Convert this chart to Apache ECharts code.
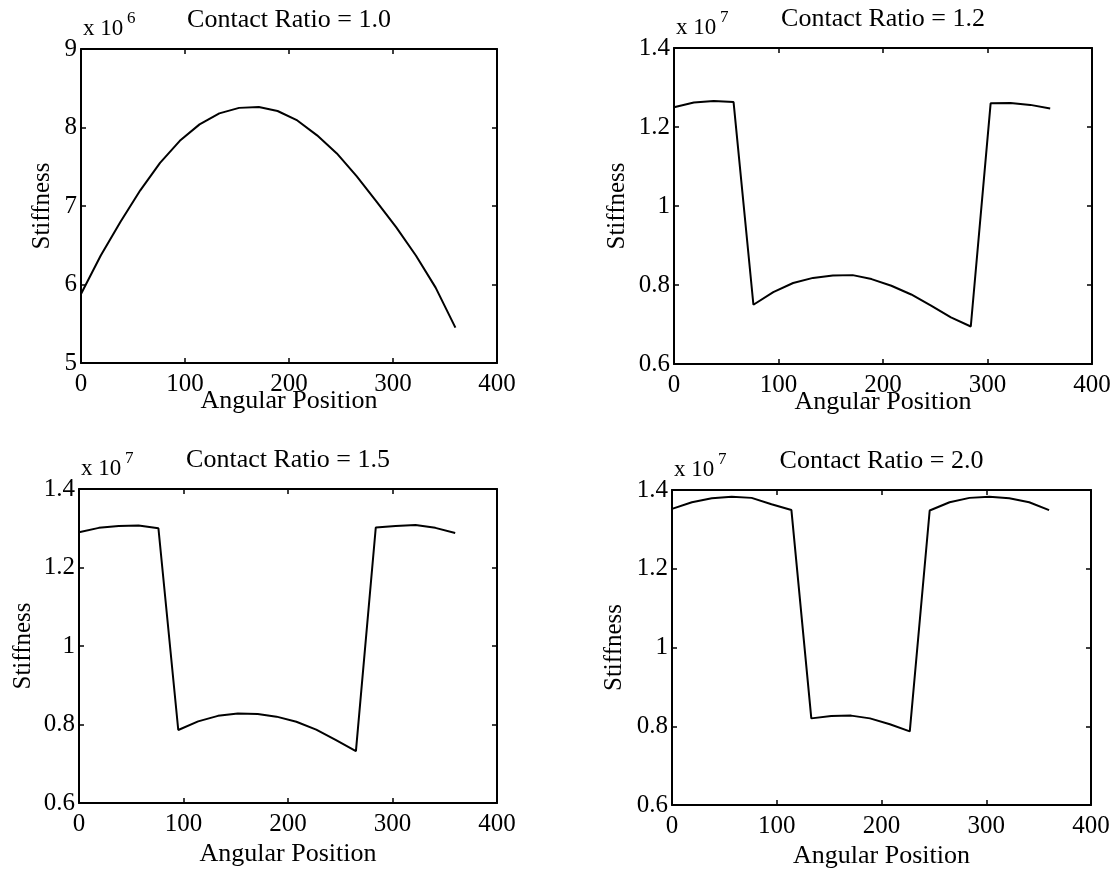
<!DOCTYPE html>
<html><head><meta charset="utf-8">
<script src="https://cdn.jsdelivr.net/npm/echarts@6/dist/echarts.min.js"></script>
<style>html,body{margin:0;padding:0;background:#fff}#c{width:1118px;height:870px}</style>
</head><body><div id="c"></div>
<script>
// Angular positions (degrees) sampled in the original plots
const angles = [0, 19, 38, 57, 76, 95, 114, 133, 152, 171, 189, 208, 227, 246, 265, 284, 303, 322, 341, 360];
// Stiffness values in units of the axis multiplier (x10^6 for CR 1.0, x10^7 for others)
const stiffCR10 = [5.88, 6.37, 6.80, 7.20, 7.55, 7.83, 8.04, 8.18, 8.25, 8.26, 8.21, 8.09, 7.90, 7.67, 7.38, 7.06, 6.73, 6.37, 5.96, 5.45];
const stiffCR12 = [1.250, 1.262, 1.266, 1.263, 0.750, 0.782, 0.805, 0.818, 0.824, 0.825, 0.815, 0.798, 0.776, 0.748, 0.718, 0.695, 1.260, 1.261, 1.256, 1.247];
const stiffCR15 = [1.290, 1.301, 1.306, 1.307, 1.300, 0.786, 0.808, 0.822, 0.828, 0.827, 0.820, 0.807, 0.787, 0.760, 0.732, 1.302, 1.306, 1.308, 1.301, 1.288];
const stiffCR20 = [1.352, 1.369, 1.379, 1.383, 1.380, 1.364, 1.349, 0.820, 0.826, 0.827, 0.820, 0.805, 0.787, 1.348, 1.369, 1.380, 1.383, 1.379, 1.369, 1.349];

const panelTitles = ['Contact Ratio = 1.0', 'Contact Ratio = 1.2', 'Contact Ratio = 1.5', 'Contact Ratio = 2.0'];
const exponents = ['6', '7', '7', '7'];
const xTicks = {min: 0, max: 400, interval: 100};
const yRanges = [
  {min: 5, max: 9, interval: 1},
  {min: 0.6, max: 1.4, interval: 0.2},
  {min: 0.6, max: 1.4, interval: 0.2},
  {min: 0.6, max: 1.4, interval: 0.2}
];
const seriesData = [stiffCR10, stiffCR12, stiffCR15, stiffCR20];
const xName = 'Angular Position';
const yName = 'Stiffness';

// layout
const grids = [
  {left: 81, top: 49, width: 416, height: 314},
  {left: 674, top: 48, width: 418, height: 316},
  {left: 79, top: 489, width: 418, height: 314},
  {left: 672, top: 490, width: 419, height: 316}
];
const yNameGaps = [26, 44, 43, 45];
const xNameGaps = [25, 25, 38, 38];

const FONT = 'Liberation Serif, Times New Roman, serif';
const black = '#000';
const lineStyle = {color: black, width: 2};
const tickStyle = {show: true, inside: true, length: 5, lineStyle: {color: black, width: 1.5}};

const xAxes = [], yAxes = [], series = [], graphics = [];
grids.forEach((g, i) => {
  xAxes.push({
    type: 'value', gridIndex: i, position: 'bottom', ...xTicks,
    axisLine: {show: true, onZero: false, lineStyle}, axisTick: tickStyle, splitLine: {show: false},
    axisLabel: {color: black, fontFamily: FONT, fontSize: 25, margin: 9},
    name: xName, nameLocation: 'middle', nameGap: xNameGaps[i], nameMoveOverlap: false,
    nameTextStyle: {color: black, fontFamily: FONT, fontSize: 26}
  });
  xAxes.push({
    type: 'value', gridIndex: i, position: 'top', ...xTicks,
    axisLine: {show: true, onZero: false, lineStyle}, axisTick: tickStyle, splitLine: {show: false},
    axisLabel: {show: false}
  });
  yAxes.push({
    type: 'value', gridIndex: i, position: 'left', ...yRanges[i],
    axisLine: {show: true, onZero: false, lineStyle}, axisTick: tickStyle, splitLine: {show: false},
    axisLabel: {color: black, fontFamily: FONT, fontSize: 25, margin: 4},
    name: yName, nameLocation: 'middle', nameGap: yNameGaps[i], nameMoveOverlap: false,
    nameTextStyle: {color: black, fontFamily: FONT, fontSize: 25}
  });
  yAxes.push({
    type: 'value', gridIndex: i, position: 'right', ...yRanges[i],
    axisLine: {show: true, onZero: false, lineStyle}, axisTick: tickStyle, splitLine: {show: false},
    axisLabel: {show: false}
  });
  series.push({
    type: 'line', xAxisIndex: i * 2, yAxisIndex: i * 2, showSymbol: false, symbol: 'none',
    lineStyle: {color: black, width: 2}, animation: false,
    data: angles.map((a, k) => [a, seriesData[i][k]])
  });
  // panel title
  graphics.push({
    type: 'text', x: g.left + g.width / 2, y: g.top - 16,
    style: {text: panelTitles[i], font: '26px ' + FONT, fill: black, textAlign: 'center', textVerticalAlign: 'bottom'}
  });
  // multiplier x 10^n
  graphics.push({
    type: 'text', x: g.left + 2, y: g.top - 9,
    style: {text: 'x 10', font: '23px ' + FONT, fill: black, textVerticalAlign: 'bottom'}
  });
  graphics.push({
    type: 'text', x: g.left + 46, y: g.top - 22,
    style: {text: exponents[i], font: '17px ' + FONT, fill: black, textVerticalAlign: 'bottom'}
  });
});

const chart = echarts.init(document.getElementById('c'), null, {renderer: 'canvas'});
chart.setOption({
  backgroundColor: '#fff',
  animation: false,
  grid: grids.map(g => ({...g, containLabel: false})),
  xAxis: xAxes,
  yAxis: yAxes,
  series: series,
  graphic: graphics
});
</script>
</body></html>
